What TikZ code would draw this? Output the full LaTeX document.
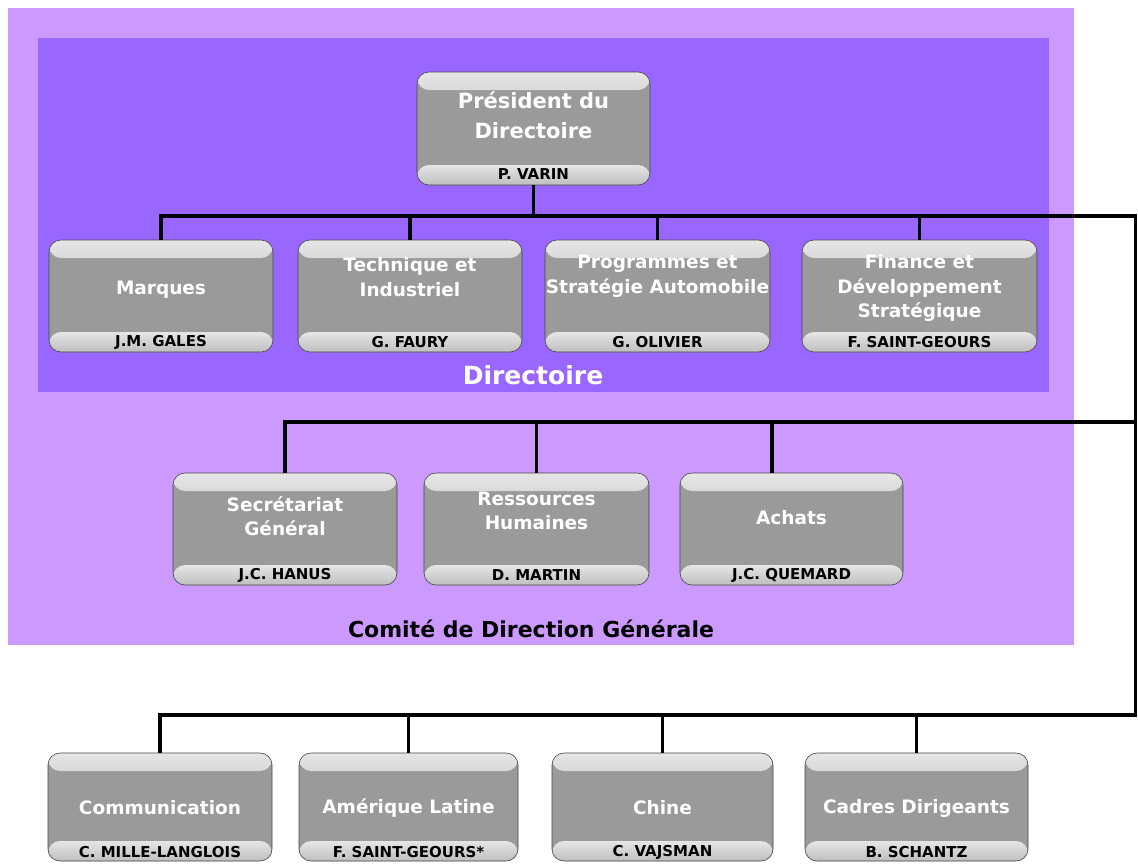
\documentclass[tikz,border=0pt]{standalone}
\usepackage{fontspec}
\setmainfont{DejaVu Sans}
\usetikzlibrary{calc}
\definecolor{lightpurple}{HTML}{CC99FF}
\definecolor{darkpurple}{HTML}{9966FF}
\definecolor{boxgray}{HTML}{9A9A9A}
\definecolor{bandlight}{HTML}{E6E6E6}
\definecolor{bandmid}{HTML}{BEBEBE}
\tikzset{
 obox/.style={rectangle, rounded corners=12pt, fill=boxgray, draw=gray!55!black, line width=0.6pt,
   minimum width=224pt, minimum height=112pt, inner sep=0pt,
   path picture={
     \shade[top color=bandlight, bottom color=boxgray]
       (path picture bounding box.north west) rectangle ([yshift=-18pt]path picture bounding box.north east);
     \shade[top color=bandlight, bottom color=bandmid]
       ([yshift=20pt]path picture bounding box.south west) rectangle (path picture bounding box.south east);
   }},
 otitle/.style={text=white, font=\bfseries\fontsize{18.5}{24.5}\selectfont, align=center, inner sep=0pt},
 oname/.style={text=black, font=\bfseries\fontsize{15}{16}\selectfont, inner sep=0pt},
 link/.style={line width=3.4pt, black},
 grouplabel/.style={font=\bfseries, inner sep=0pt},
}
\begin{document}
\begin{tikzpicture}[x=1pt,y=-1pt]
\useasboundingbox (0,0) rectangle (1138,863);
\fill[white] (0,0) rectangle (1138,863);
\fill[lightpurple] (8,8) rectangle (1074,645);
\fill[darkpurple] (38,38) rectangle (1049,392);

% bus coordinates
\coordinate (r1) at (1135.3,216);
\coordinate (r2) at (1135.3,422);
\coordinate (r3) at (1135.3,715);

% top
\node[obox, minimum width=233pt, minimum height=113pt] (pres) at (533.5,128.5) {};
\node[otitle, font=\bfseries\fontsize{21}{30}\selectfont] (prest) at (533.5,115) {Président du\\Directoire};
\node[oname] (presn) at (533.5,174) {P. VARIN};

% row 1
\node[obox] (mar) at (161,296) {};
\node[otitle] (mart) at (161,290) {Marques};
\node[oname] (marn) at (161,342) {J.M. GALES};

\node[obox] (tech) at (410,296) {};
\node[otitle] (techt) at (410,277) {Technique et\\Industriel};
\node[oname] (techn) at (410,342) {G. FAURY};

\node[obox, minimum width=225pt] (prog) at (657.5,296) {};
\node[otitle] (progt) at (657.5,276) {Programmes et\\Stratégie Automobile};
\node[oname] (progn) at (657.5,342) {G. OLIVIER};

\node[obox, minimum width=235pt] (fin) at (919.5,296) {};
\node[otitle] (fint) at (919.5,288) {Finance et\\Développement\\Stratégique};
\node[oname] (finn) at (919.5,342) {F. SAINT-GEOURS};

\node[grouplabel, text=white, font=\bfseries\fontsize{25}{30}\selectfont] (dir) at (533,375) {Directoire};

% row 2
\node[obox] (sec) at (285,529) {};
\node[otitle] (sect) at (285,516) {Secrétariat\\Général};
\node[oname] (secn) at (285,575) {J.C. HANUS};

\node[obox, minimum width=225pt] (rh) at (536.5,529) {};
\node[otitle] (rht) at (536.5,511) {Ressources\\Humaines};
\node[oname] (rhn) at (536.5,575) {D. MARTIN};

\node[obox, minimum width=223pt] (ach) at (791.5,529) {};
\node[otitle] (acht) at (791.5,518) {Achats};
\node[oname] (achn) at (791.5,575) {J.C. QUEMARD};

\node[grouplabel, text=black, font=\bfseries\fontsize{22}{26}\selectfont] (codir) at (531,629) {Comité de Direction Générale};

% row 3
\node[obox, minimum height=108pt] (com) at (160,807) {};
\node[otitle] (comt) at (160,808) {Communication};
\node[oname] (comn) at (160,852) {C. MILLE-LANGLOIS};

\node[obox, minimum width=219pt, minimum height=108pt] (ame) at (408.5,807) {};
\node[otitle] (amet) at (408.5,808) {Amérique Latine};
\node[oname] (amen) at (408.5,852) {F. SAINT-GEOURS*};

\node[obox, minimum width=221pt, minimum height=108pt] (chi) at (662.5,807) {};
\node[otitle] (chit) at (662.5,808) {Chine};
\node[oname] (chin) at (662.5,852) {C. VAJSMAN};

\node[obox, minimum width=223pt, minimum height=108pt] (cad) at (916.5,807) {};
\node[otitle] (cadt) at (916.5,808) {Cadres Dirigeants};
\node[oname] (cadn) at (916.5,852) {B. SCHANTZ};

% connectors
\draw[link] (pres.south) -- (pres.south |- r1);
\draw[link, line join=miter] (mar.north) -- (mar.north |- r1) -- (r1) -- (r3) -- (com.north |- r3) -- (com.north);
\draw[link] (tech.north) -- (tech.north |- r1);
\draw[link] (prog.north) -- (prog.north |- r1);
\draw[link] (fin.north) -- (fin.north |- r1);

\draw[link, line join=miter] (sec.north) -- (sec.north |- r2) -- (r2);
\draw[link] (rh.north) -- (rh.north |- r2);
\draw[link] ([xshift=-19.5pt]ach.north) -- ([xshift=-19.5pt]ach.north |- r2);

\draw[link] (ame.north) -- (ame.north |- r3);
\draw[link] (chi.north) -- (chi.north |- r3);
\draw[link] (cad.north) -- (cad.north |- r3);
\end{tikzpicture}
\end{document}
